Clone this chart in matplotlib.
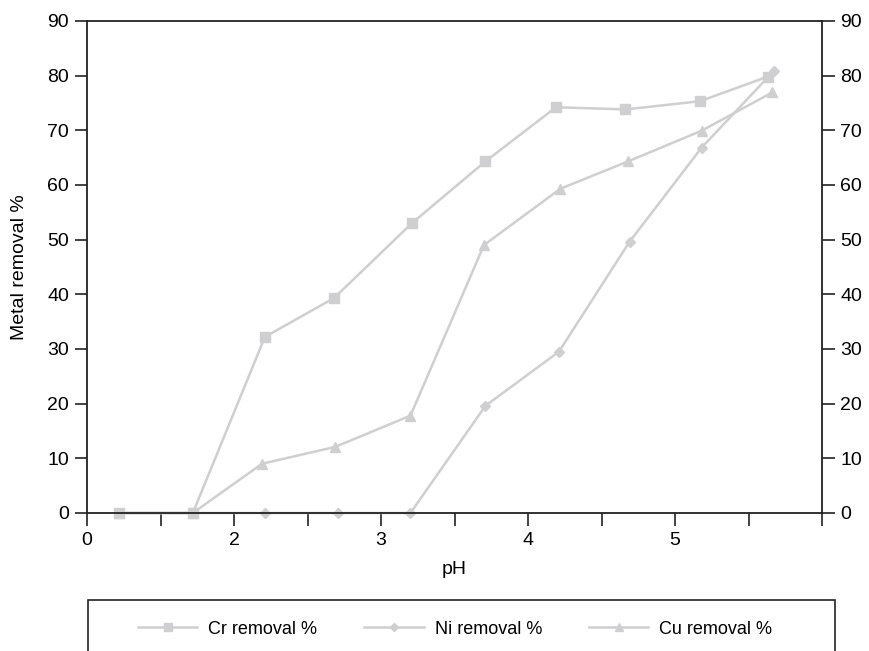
import matplotlib
matplotlib.use("Agg")
from matplotlib import pyplot as plt
from matplotlib.patches import Rectangle

plt.rcParams['font.family'] = ['Liberation Sans', 'DejaVu Sans']

# data (x in axis units, ticks every 0.5)
cr_x = [1.22, 1.72, 2.21, 2.68, 3.21, 3.71, 4.19, 4.66, 5.17, 5.63]
cr_y = [0, 0, 32.2, 39.3, 53.0, 64.3, 74.2, 73.8, 75.3, 79.8]
ni_x = [1.22, 1.72, 2.21, 2.71, 3.20, 3.71, 4.21, 4.69, 5.18, 5.67]
ni_y = [0, 0, 0, 0, 0, 19.6, 29.5, 49.6, 66.8, 80.8]
cu_x = [1.22, 1.72, 2.19, 2.69, 3.20, 3.70, 4.22, 4.68, 5.18, 5.66]
cu_y = [0, 0, 9.0, 12.1, 17.8, 49.0, 59.3, 64.3, 69.9, 76.9]
x_ticks = [1, 1.5, 2, 2.5, 3, 3.5, 4, 4.5, 5, 5.5, 6]
x_labels = ['0', '', '2', '', '3', '', '4', '', '5', '', '']
y_ticks = list(range(0, 91, 10))

grey = '#cfcfd1'
dark = '#222222'
fs = 14

fig = plt.figure(figsize=(8.7, 6.51), dpi=100)
ax = fig.add_axes([0.1, 0.212, 0.845, 0.756])

l_ni, = ax.plot(ni_x, ni_y, color=grey, lw=1.8, marker='D', ms=5.5, label='Ni removal %', clip_on=False)
l_cu, = ax.plot(cu_x, cu_y, color=grey, lw=1.8, marker='^', ms=7, label='Cu removal %', clip_on=False)
l_cr, = ax.plot(cr_x, cr_y, color=grey, lw=1.8, marker='s', ms=6.5, label='Cr removal %', clip_on=False)

ax.set_xlim(1, 6)
ax.set_ylim(0, 90)
ax.set_xticks(x_ticks)
ax.set_xticklabels(x_labels)
ax.set_yticks(y_ticks)
ax.tick_params(axis='y', which='both', left=True, right=True, labelleft=True, labelright=True,
               direction='out', length=9, width=1.2, color=dark, labelsize=fs, pad=4)
ax.tick_params(axis='x', direction='out', length=9, width=1.2, color=dark, labelsize=fs, pad=5)
for s in ax.spines.values():
    s.set_color(dark)
    s.set_linewidth(1.3)

ax.set_xlabel('pH', fontsize=fs, labelpad=8)
ax.set_ylabel('Metal removal %', fontsize=fs, labelpad=14)

# legend box
fig.patches.append(Rectangle((88/870, -0.01), 747/870, 1 - 600/651 + 0.01, transform=fig.transFigure,
                             fill=False, edgecolor=dark, lw=1.2))
fig.legend([l_cr, l_ni, l_cu], ['Cr removal %', 'Ni removal %', 'Cu removal %'],
           loc='center', bbox_to_anchor=(455/870, 1 - 629/651), ncol=3, frameon=False,
           fontsize=13, handlelength=3.3, columnspacing=2.6, handletextpad=0.6, markerscale=0.8)

fig.savefig('out.png', dpi=100)
